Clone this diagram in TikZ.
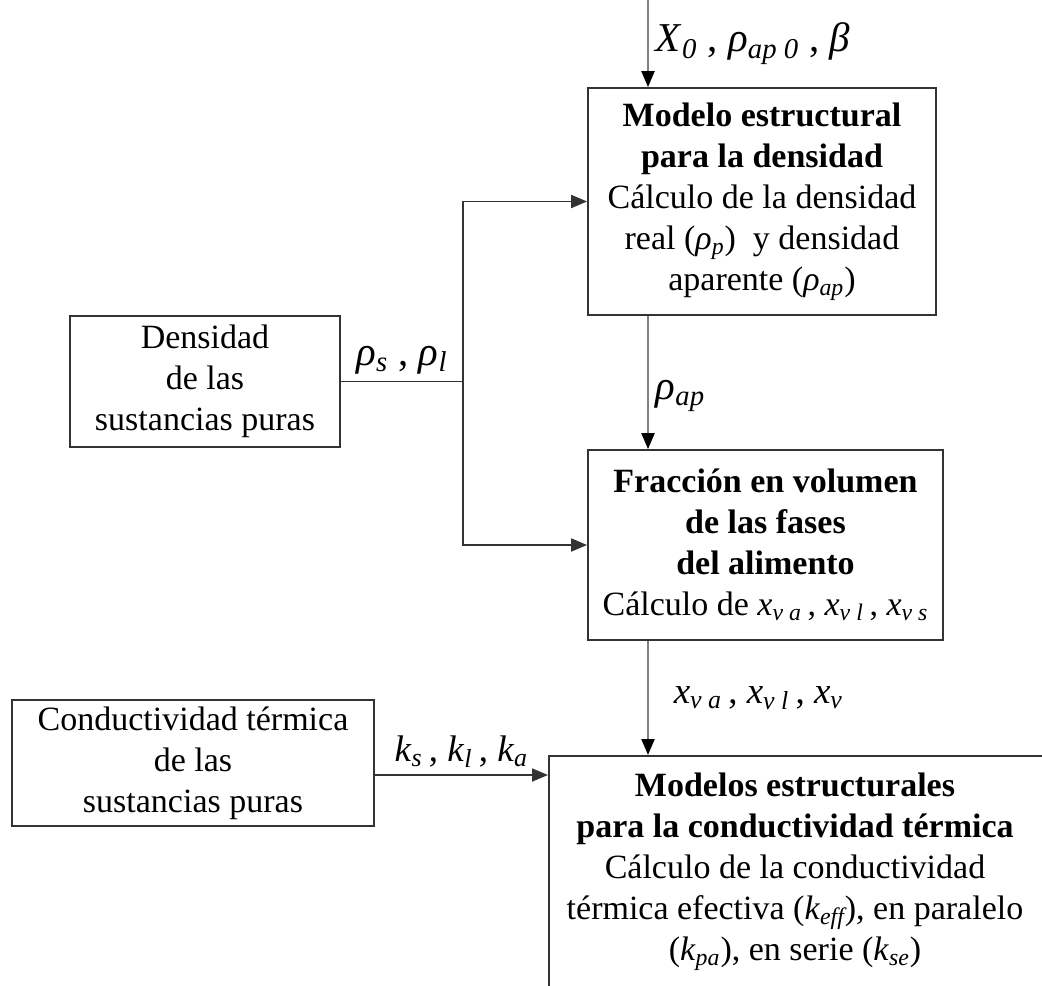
\documentclass[tikz,border=0pt]{standalone}
\usepackage{fontspec}
\setmainfont{Liberation Serif}
\usetikzlibrary{arrows.meta}

\newcommand{\sub}[1]{\textsubscript{\itshape #1}}
\newcommand{\vr}[2]{\textit{#1}\sub{#2}}

\begin{document}
\begin{tikzpicture}[x=0.5pt,y=-0.5pt,
    >={Triangle[length=8pt,width=6.5pt]},
    every node/.style={font=\fontsize{17}{20.5}\selectfont},
    box/.style={draw=black!80,line width=0.9pt,align=center,inner sep=0pt},
    link/.style={draw=black!80,line width=0.9pt},
    feed/.style={draw=black!50,line width=1.1pt,-{Triangle[length=8pt,width=6.5pt,color=black]}},
    big/.style={font=\fontsize{20.5}{24}\selectfont},
    mid/.style={font=\fontsize{18.5}{22}\selectfont}]
  \useasboundingbox (0,0) rectangle (1042,985);
  \clip (0,0) rectangle (1042,985);

  % boxes
  \node[box,minimum width=174pt,minimum height=113.5pt] (dens) at (762,201.5)
    {\textbf{Modelo estructural}\\ \textbf{para la densidad}\\ Cálculo de la densidad\\
     real (\vr{ρ}{p})~ y densidad\\ aparente (\vr{ρ}{ap})};
  \node[box,minimum width=177.5pt,minimum height=95pt] (frac) at (765.5,545)
    {\textbf{Fracción en volumen}\\ \textbf{de las fases}\\ \textbf{del alimento}\\
     Cálculo de \vr{x}{v a}\,, \vr{x}{v l}\,, \vr{x}{v s}};
  \node[box,minimum width=135pt,minimum height=65.5pt] (pure1) at (205,381.5)
    {Densidad\\ de las\\ sustancias puras};
  \node[box,minimum width=181pt,minimum height=63pt] (pure2) at (193,763)
    {Conductividad térmica\\ de las\\ sustancias puras};
  \node[box,anchor=north west,minimum width=260pt,minimum height=130pt] (model) at (548,755) {};
  \node[align=center,anchor=north,inner sep=0pt] (modeltxt) at (795,772)
    {\textbf{Modelos estructurales}\\ \textbf{para la conductividad térmica}\\
     Cálculo de la conductividad\\ térmica efectiva (\vr{k}{eff}), en paralelo\\
     (\vr{k}{pa}), en serie (\vr{k}{se})};

  % main line
  \coordinate (top) at (648,0);
  \draw[feed] (top) -- node[right,big] {\vr{X}{0}\ , \vr{ρ}{ap 0}\ , \textit{β}} (top |- dens.north);
  \draw[feed] (dens.south -| top) -- node[right,big,pos=0.6] {\vr{ρ}{ap}} (frac.north -| top);
  \draw[feed] (frac.south -| top) -- node[right,mid,xshift=9pt] {\vr{x}{v a}\,, \vr{x}{v l}\,, \vr{x}{v}} (model.north -| top);

  % side inputs
  \coordinate (jn) at (463,0);
  \draw[link] (pure1.east) -- node[above,big] {\vr{ρ}{s}\ , \vr{ρ}{l}} (pure1.east -| jn);
  \draw[link,->] (pure1.east -| jn) |- (dens.west);
  \draw[link,->] (pure1.east -| jn) |- (frac.west);
  \draw[link,->] ([yshift=-6pt]pure2.east) -- node[above,mid] {\vr{k}{s}\,, \vr{k}{l}\,, \vr{k}{a}}
    ([yshift=-6pt]pure2.east -| model.west);
\end{tikzpicture}
\end{document}
